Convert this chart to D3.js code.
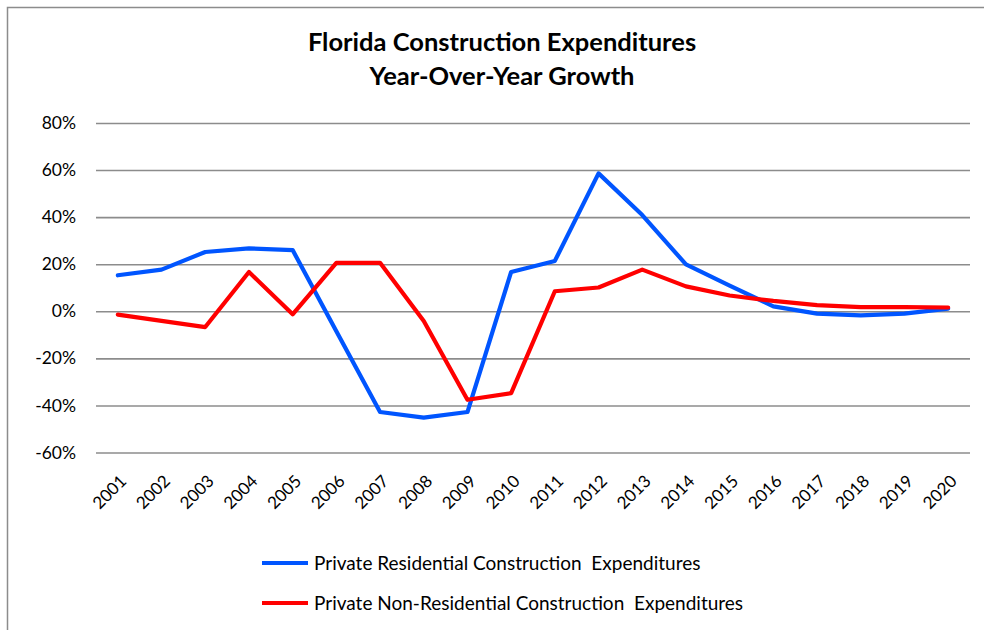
<!DOCTYPE html>
<html>
<head>
<meta charset="utf-8">
<script src="https://cdn.jsdelivr.net/npm/d3@7"></script>
<style>
  html, body { margin: 0; padding: 0; background: #fff; }
  svg { display: block; font-family: Lato, "Open Sans", sans-serif; }
</style>
</head>
<body>
<svg id="chart" width="984" height="630"></svg>
<script>
const years = ["2001","2002","2003","2004","2005","2006","2007","2008","2009","2010",
               "2011","2012","2013","2014","2015","2016","2017","2018","2019","2020"];
const residential = [15.3, 17.7, 25.2, 26.7, 26.0, -8.5, -42.8, -45.2, -42.8, 16.7,
                     21.4, 58.6, 40.9, 19.9, 10.9, 2.1, -1.0, -1.7, -1.0, 1.1];
const nonResidential = [-1.4, -4.1, -6.7, 16.7, -1.3, 20.6, 20.6, -4.1, -37.6, -34.8,
                        8.5, 10.1, 17.7, 10.6, 6.7, 4.4, 2.6, 1.8, 1.8, 1.6];
const yTicks = [-60, -40, -20, 0, 20, 40, 60, 80];
const titleLines = ["Florida Construction Expenditures", "Year-Over-Year Growth"];
const seriesNames = ["Private Residential Construction  Expenditures",
                     "Private Non-Residential Construction  Expenditures"];
const seriesColors = ["#0055ff", "#ff0000"];

const svg = d3.select("#chart");

// outer chart border
svg.append("rect")
  .attr("x", 7.5).attr("y", 7.5).attr("width", 1000).attr("height", 1000)
  .attr("fill", "none").attr("stroke", "#8c8c8c").attr("stroke-width", 1.5);

const x = d3.scalePoint().domain(years).range([96, 970]).padding(0.5);
const y = d3.scaleLinear().domain([-60, 80]).range([452.5, 123]);

// gridlines
const grid = svg.append("g")
  .attr("transform", "translate(96,0)")
  .call(d3.axisLeft(y).tickValues(yTicks).tickSize(-874).tickFormat(""));
grid.select(".domain").remove();
grid.selectAll("line").attr("stroke", "#8c8c8c").attr("stroke-width", 1.6);

// y labels
const yAxis = svg.append("g")
  .attr("transform", "translate(76,0)")
  .call(d3.axisLeft(y).tickValues(yTicks).tickSize(0).tickPadding(0).tickFormat(d => d + "%"));
yAxis.select(".domain").remove();
yAxis.selectAll("text")
  .attr("font-family", "Lato, sans-serif").attr("font-size", 17.5).attr("fill", "#000");

// x labels
const xAxis = svg.append("g")
  .attr("transform", "translate(0,478)")
  .call(d3.axisBottom(x).tickSize(0).tickPadding(0));
xAxis.select(".domain").remove();
xAxis.selectAll("text")
  .attr("font-family", "Lato, sans-serif").attr("font-size", 17).attr("fill", "#000")
  .attr("text-anchor", "end")
  .attr("dy", "0.35em")
  .attr("transform", "translate(5,0) rotate(-45)");

// lines
const line = d3.line().x((d, i) => x(years[i])).y(d => y(d));
[residential, nonResidential].forEach((s, k) => {
  svg.append("path").datum(s)
    .attr("d", line)
    .attr("fill", "none")
    .attr("stroke", seriesColors[k])
    .attr("stroke-width", 4.2)
    .attr("stroke-linejoin", "round")
    .attr("stroke-linecap", "round");
});

// title
svg.append("g").selectAll("text").data(titleLines).join("text")
  .attr("x", 502).attr("y", (d, i) => 51 + i * 34)
  .attr("text-anchor", "middle")
  .attr("font-family", "Lato, sans-serif")
  .attr("font-weight", "bold").attr("font-size", 25.5).attr("fill", "#000")
  .text(d => d);

// legend
const legend = svg.append("g");
seriesNames.forEach((name, k) => {
  const ly = 563 + k * 40;
  legend.append("line")
    .attr("x1", 262).attr("x2", 308).attr("y1", ly).attr("y2", ly)
    .attr("stroke", seriesColors[k]).attr("stroke-width", 4);
  legend.append("text")
    .attr("x", 314).attr("y", ly).attr("dy", "0.35em")
    .attr("font-family", "Lato, sans-serif").attr("font-size", 19).attr("fill", "#000")
    .attr("xml:space", "preserve")
    .style("white-space", "pre")
    .text(name);
});
</script>
</body>
</html>
